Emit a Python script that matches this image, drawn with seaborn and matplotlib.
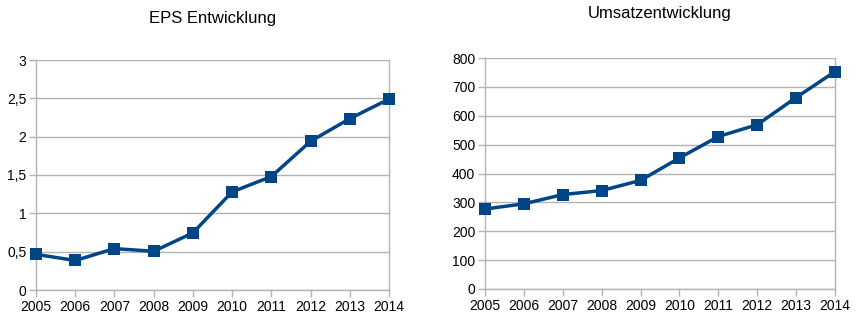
import matplotlib
matplotlib.use("Agg")
import matplotlib.pyplot as plt
import seaborn as sns
import pandas as pd
from matplotlib.ticker import FuncFormatter

years = [2005, 2006, 2007, 2008, 2009, 2010, 2011, 2012, 2013, 2014]
eps = [0.465, 0.385, 0.54, 0.505, 0.745, 1.28, 1.48, 1.94, 2.235, 2.49]
umsatz = [277, 295, 327, 341, 376, 454, 528, 569, 663, 753]

sns.set_theme(style="white")
plt.rcParams['font.family'] = ['Liberation Sans', 'DejaVu Sans']

LINE = "#004586"
GRID = "#b3b3b3"

fig = plt.figure(figsize=(8.59, 3.26), dpi=100)
W, H = 859, 326
ax1 = fig.add_axes([36 / W, 1 - 290 / H, (389 - 36) / W, (290 - 60) / H])
ax2 = fig.add_axes([485 / W, 1 - 289 / H, (835 - 485) / W, (289 - 58) / H])

df = pd.DataFrame({"year": years, "eps": eps, "umsatz": umsatz})

def style(ax, ymax, step, fmt=None):
    ax.set_xlim(years[0], years[-1])
    ax.set_ylim(0, ymax)
    ax.set_xticks(years)
    ax.set_xticklabels([str(y) for y in years])
    ticks = [i * step for i in range(int(round(ymax / step)) + 1)]
    ax.set_yticks(ticks)
    if fmt:
        ax.yaxis.set_major_formatter(FuncFormatter(fmt))
    ax.grid(True, axis="y", color=GRID, linewidth=1)
    ax.grid(False, axis="x")
    ax.set_axisbelow(True)
    for s in ["left", "bottom", "right"]:
        ax.spines[s].set_visible(True)
        ax.spines[s].set_color(GRID)
        ax.spines[s].set_linewidth(1)
    ax.spines["top"].set_visible(False)
    ax.tick_params(axis="both", which="major", length=5, width=1, color=GRID,
                   labelsize=10, labelcolor="black", direction="out", pad=2,
                   bottom=True, left=True)
    ax.set_xlabel("")
    ax.set_ylabel("")
    for ln in ax.lines:
        ln.set_clip_on(False)
        ln.set_zorder(5)

sns.lineplot(data=df, x="year", y="eps", ax=ax1, color=LINE, linewidth=2.5,
             marker="s", markersize=9, markeredgewidth=0)
style(ax1, 3, 0.5, lambda v, p: ("%g" % v).replace(".", ","))
ax1.set_title("EPS Entwicklung", fontsize=12, pad=27, color="black")

sns.lineplot(data=df, x="year", y="umsatz", ax=ax2, color=LINE, linewidth=2.5,
             marker="s", markersize=9, markeredgewidth=0)
style(ax2, 800, 100)
ax2.set_title("Umsatzentwicklung", fontsize=12, pad=29, color="black")

fig.savefig("out.png", dpi=100, facecolor="white")
